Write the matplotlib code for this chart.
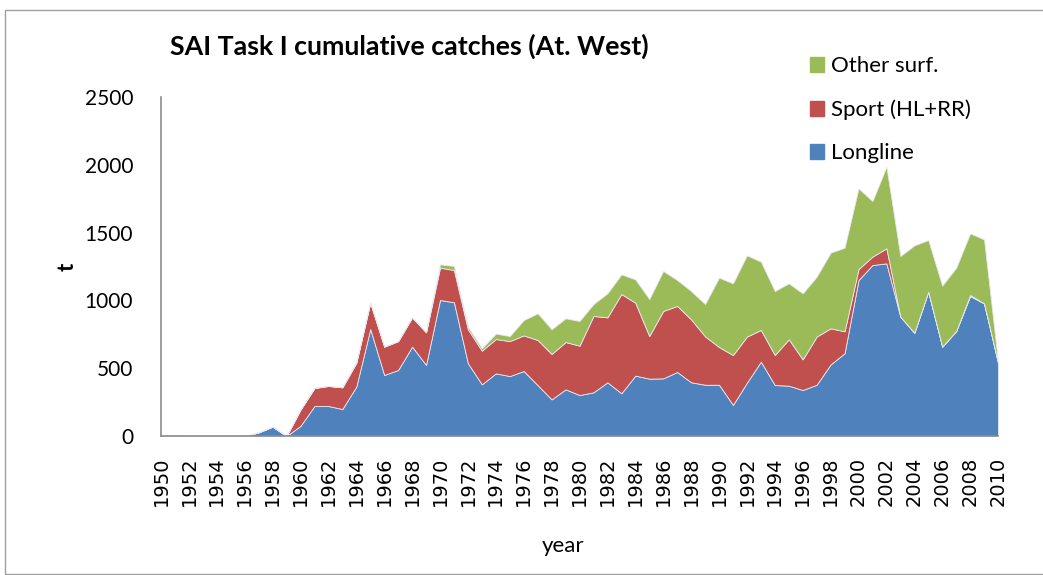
import numpy as np
import matplotlib
matplotlib.use("Agg")
import matplotlib.pyplot as plt
from matplotlib.patches import Rectangle, Patch

years = list(range(1950, 2011))

# Catches (t), per gear
longline = [5, 3, 0, 0, 0, 0, 0, 27, 69, 0,
            75, 221, 221, 199, 364, 789, 450, 487, 659, 524,
            1003, 986, 536, 381, 462, 442, 479, 375, 270, 344,
            302, 322, 396, 315, 445, 423, 425, 472, 396, 378,
            378, 229, 393, 548, 376, 371, 339, 378, 528, 610,
            1150, 1261, 1273, 880, 762, 1064, 659, 774, 1032, 978,
            541]
sport = [0, 0, 0, 0, 0, 0, 0, 0, 0, 0,
         120, 133, 148, 160, 177, 194, 209, 213, 216, 241,
         238, 238, 251, 248, 253, 258, 263, 333, 335, 349,
         364, 563, 479, 732, 538, 314, 497, 487, 464, 357,
         278, 368, 340, 234, 221, 342, 226, 355, 266, 162,
         81, 62, 111, 0, 0, 0, 0, 0, 8, 0,
         0]
other = [0, 0, 0, 0, 0, 0, 0, 0, 0, 0,
         0, 0, 0, 0, 0, 0, 0, 0, 0, 0,
         25, 30, 19, 18, 40, 37, 113, 197, 182, 175,
         182, 88, 177, 145, 172, 273, 295, 191, 209, 238,
         512, 529, 599, 504, 472, 413, 487, 442, 558, 617,
         595, 410, 602, 447, 644, 381, 450, 467, 454, 472,
         7]

c_long = "#4F81BD"
c_sport = "#C0504D"
c_other = "#9BBB59"

plt.rcParams["font.family"] = ["Lato", "DejaVu Sans"]

fig = plt.figure(figsize=(10.43, 5.75), dpi=100)
ax = fig.add_axes([161 / 1043, 1 - 436 / 575, 837 / 1043, 339 / 575])

ax.stackplot(years, longline, sport, other,
             colors=[c_long, c_sport, c_other],
             edgecolor="#e8e8f0", linewidth=0.6)

ax.set_xlim(1950, 2010)
ax.set_ylim(0, 2500)
ax.set_yticks(range(0, 2501, 500))
ax.set_xticks(range(1950, 2011, 2))
ax.set_xticklabels([str(y) for y in range(1950, 2011, 2)], rotation=90,
                   fontsize=14, family="DejaVu Sans")
ax.tick_params(axis="both", length=0)
ax.tick_params(axis="y", labelsize=15, pad=20)
ax.tick_params(axis="x", pad=15)

for s in ["top", "right"]:
    ax.spines[s].set_visible(False)
for s in ["left", "bottom"]:
    ax.spines[s].set_color("#8c8c8c")
    ax.spines[s].set_linewidth(1.2)

fig.text(67 / 1043, 1 - 267 / 575, "t", fontsize=16, fontweight="bold",
         rotation=90, ha="center", va="center")
fig.text(563 / 1043, 1 - 546 / 575, "year", fontsize=16,
         ha="center", va="center")

fig.text(170 / 1043, 1 - 46 / 575, "SAI Task I cumulative catches (At. West)",
         fontsize=19.3, fontweight="bold", va="center", ha="left")

handles = [Patch(color=c_other, label="Other surf."),
           Patch(color=c_sport, label="Sport (HL+RR)"),
           Patch(color=c_long, label="Longline")]
fig.legend(handles=handles, loc="upper left",
           bbox_to_anchor=(790 / 1043, 1 - 36 / 575),
           frameon=False, fontsize=16, handlelength=0.65, handleheight=0.65,
           handletextpad=0.3, labelspacing=1.05)

fig.patches.append(Rectangle((5 / 1043, 0.002), 1.2, 1 - 10 / 575 - 0.002,
                             transform=fig.transFigure, fill=False,
                             edgecolor="#a0a0a0", linewidth=1))

fig.savefig("out.png", dpi=100)
